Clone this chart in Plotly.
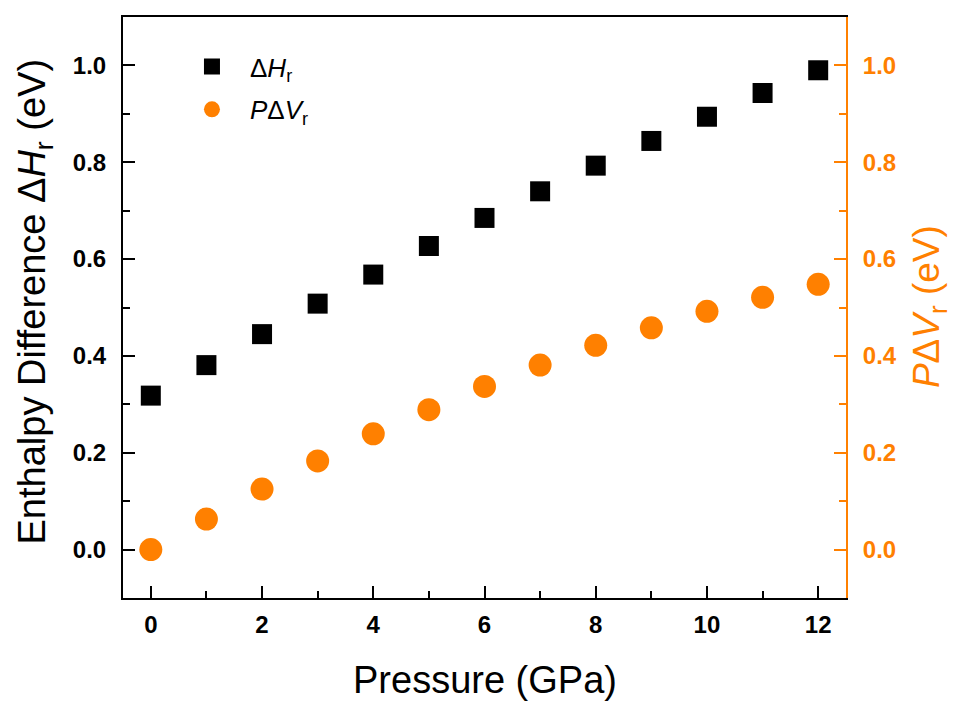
import plotly.graph_objects as go

pressure = [0, 1, 2, 3, 4, 5, 6, 7, 8, 9, 10, 11, 12]
delta_h = [0.318, 0.381, 0.445, 0.508, 0.568, 0.627, 0.685, 0.740, 0.793, 0.844, 0.894, 0.943, 0.990]
p_delta_v = [0.000, 0.063, 0.125, 0.183, 0.239, 0.289, 0.337, 0.381, 0.422, 0.458, 0.492, 0.521, 0.548]

ORANGE = "#FF8000"
FONT = "Arial, Liberation Sans, sans-serif"

fig = go.Figure()
fig.add_trace(go.Scatter(
    x=pressure, y=delta_h, mode="markers", name="Δ<i>H</i><sub>r</sub>",
    legendgroup="a",
    marker=dict(symbol="square", size=20, color="black"), yaxis="y"))
fig.add_trace(go.Scatter(
    x=pressure, y=p_delta_v, mode="markers", name="<i>P</i>Δ<i>V</i><sub>r</sub>",
    legendgroup="b",
    marker=dict(symbol="circle", size=23, color=ORANGE), yaxis="y2"))

fig.update_layout(
    width=950, height=697,
    margin=dict(l=115, r=112, t=7, b=107),
    paper_bgcolor="white", plot_bgcolor="white",
    font=dict(family=FONT, color="black"),
    showlegend=True,
    legend=dict(x=0.0705, y=0.955, xanchor="left", yanchor="top",
                font=dict(size=26, family=FONT), itemsizing="trace", itemwidth=66,
                bgcolor="rgba(0,0,0,0)", tracegroupgap=6, traceorder="grouped"),
    xaxis=dict(range=[-0.5, 12.5], dtick=2, tick0=0,
               showline=True, linecolor="black", linewidth=2, mirror=True,
               ticks="inside", ticklen=12, tickwidth=2, tickcolor="black",
               minor=dict(dtick=1, ticks="inside", ticklen=7, tickwidth=2, tickcolor="black"),
               showgrid=False, zeroline=False, ticklabelstandoff=4,
               tickfont=dict(size=24, family=FONT, weight="bold")),
    yaxis=dict(range=[-0.1, 1.1], dtick=0.2, tick0=0, tickformat=".1f",
               showline=True, linecolor="black", linewidth=2,
               ticks="inside", ticklen=12, tickwidth=2, tickcolor="black",
               minor=dict(dtick=0.1, ticks="inside", ticklen=7, tickwidth=2, tickcolor="black"),
               showgrid=False, zeroline=False, ticklabelstandoff=10,
               tickfont=dict(size=24, family=FONT, weight="bold")),
    yaxis2=dict(range=[-0.1, 1.1], dtick=0.2, tick0=0, tickformat=".1f",
                overlaying="y", side="right",
                showline=True, linecolor=ORANGE, linewidth=2,
                ticks="inside", ticklen=12, tickwidth=2, tickcolor=ORANGE,
                minor=dict(dtick=0.1, ticks="inside", ticklen=7, tickwidth=2, tickcolor=ORANGE),
                showgrid=False, zeroline=False, ticklabelstandoff=10,
                tickfont=dict(size=24, family=FONT, weight="bold", color=ORANGE)),
    annotations=[
        dict(text="Pressure (GPa)", xref="paper", yref="paper", x=0.5, y=-0.141,
             xanchor="center", yanchor="middle", showarrow=False,
             font=dict(size=38, family=FONT, color="black")),
        dict(text="Enthalpy Difference Δ<i>H</i><sub>r</sub> (eV)", xref="paper", yref="paper",
             x=-0.122, y=0.51, xanchor="center", yanchor="middle", textangle=-90,
             showarrow=False, font=dict(size=38, family=FONT, color="black")),
        dict(text="<i>P</i>Δ<i>V</i><sub>r</sub> (eV)", xref="paper", yref="paper",
             x=1.115, y=0.501, xanchor="center", yanchor="middle", textangle=-90,
             showarrow=False, font=dict(size=37, family=FONT, color=ORANGE)),
    ],
)

fig.write_html("out.html")
